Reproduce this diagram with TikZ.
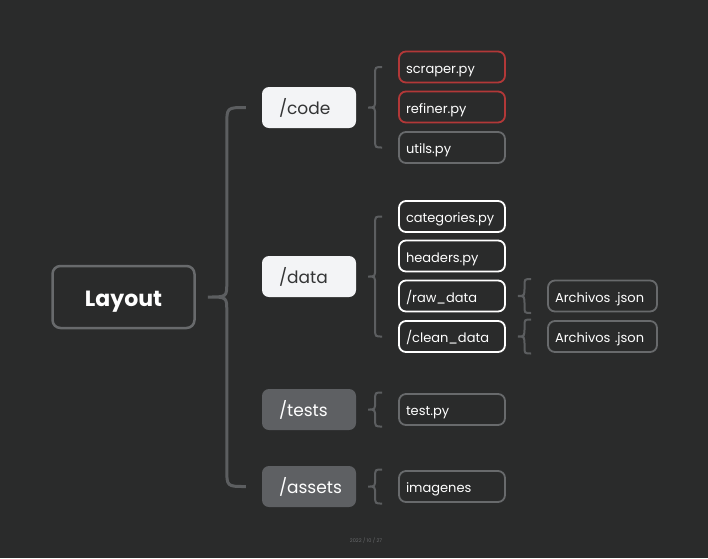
\documentclass[tikz,border=0pt]{standalone}
\usepackage{fontspec}
\setmainfont{Poppins}
\usetikzlibrary{calc}

\definecolor{bgdark}{HTML}{2A2B2B}
\definecolor{forkgray}{HTML}{5C5E60}
\definecolor{edgegray}{HTML}{686A6C}
\definecolor{paper}{HTML}{F3F4F6}
\definecolor{slate}{HTML}{5E6063}
\definecolor{inkdark}{HTML}{333435}
\definecolor{alert}{HTML}{B23838}

\tikzset{
  root/.style={draw=edgegray, line width=2.5pt, rounded corners=8pt, minimum width=142pt, minimum height=62pt, text=white, text height=20pt, text depth=2pt, font=\fontsize{22}{24}\selectfont\bfseries},
  folder/.style={fill=paper, rounded corners=7pt, text width=60pt, inner xsep=17pt, align=left, minimum height=41pt, text height=15pt, text depth=2pt, text=inkdark, font=\fontsize{17}{19}\selectfont},
  folderdim/.style={folder, fill=slate, text=white},
  file/.style={draw=edgegray, line width=1.8pt, rounded corners=7pt, text width=92pt, inner xsep=7pt, align=left, minimum height=31pt, text height=13pt, text depth=1pt, text=white, font=\fontsize{13}{15}\selectfont},
  filered/.style={file, draw=alert},
  filewhite/.style={file, draw=white},
  filewide/.style={file, text width=95pt},
  fork/.style={draw=forkgray, line width=2pt},
  bigfork/.style={draw=forkgray, line width=3pt},
}

% [spread]{style}{curve}{corner}{parent}{first}{last}
\newcommand\fork[7][0pt]{%
  \draw[#2] let \p1=([xshift=12pt]#5.east), \p2=([xshift=-16pt]#6.west), \p3=([xshift=-16pt]#7.west) in
    (\x2,{\y2+#1}) .. controls ({(\x1+\x2)/2},{\y2+#1}) .. ({(\x1+\x2)/2},{\y2+#1-#4})
    -- ({(\x1+\x2)/2},{\y1+#3})
    .. controls ({(\x1+\x2)/2},\y1) .. (\x1,\y1)
    .. controls ({(\x1+\x2)/2},\y1) .. ({(\x1+\x2)/2},{\y1-#3})
    -- ({(\x1+\x2)/2},{\y3-#1+#4})
    .. controls ({(\x1+\x2)/2},{\y3-#1}) .. (\x3,{\y3-#1});}

\begin{document}
\begin{tikzpicture}[x=1pt, y=-1pt]
  \fill[bgdark] (0,0) rectangle (708,558);
  \useasboundingbox (0,0) rectangle (708,558);

  \node[root] (layout) at (123.5,297) {Layout};

  \node[folder] (code) at (309,107.5) {/code};
  \node[folder] (data) at (309,276.5) {/data};
  \node[folderdim] (tests) at (309,409.5) {/tests};
  \node[folderdim] (assets) at (309,486.5) {/assets};

  \node[filered] (scraper) at (452,67) {scraper.py};
  \node[filered] (refiner) at (452,107) {refiner.py};
  \node[file] (utils) at (452,147.5) {utils.py};

  \node[filewhite] (categories) at (452,216.5) {categories.py};
  \node[filewhite] (headers) at (452,256) {headers.py};
  \node[filewhite] (rawdata) at (452,296) {/raw\_data};
  \node[filewhite] (cleandata) at (452,336.5) {/clean\_data};

  \node[filewide] (rawjson) at (602.5,296) {Archivos .json};
  \node[filewide] (cleanjson) at (602.5,336.5) {Archivos .json};

  \node[file] (testpy) at (452,409.5) {test.py};
  \node[file] (imagenes) at (452,486.5) {imagenes};

  \fork{bigfork}{14pt}{18pt}{layout}{code}{assets}
  \fork{fork}{9pt}{7pt}{code}{scraper}{utils}
  \fork{fork}{9pt}{7pt}{data}{categories}{cleandata}
  \fork[17pt]{fork}{9pt}{7pt}{rawdata}{rawjson}{rawjson}
  \fork[17pt]{fork}{9pt}{7pt}{cleandata}{cleanjson}{cleanjson}
  \fork[17pt]{fork}{9pt}{7pt}{tests}{testpy}{testpy}
  \fork[17pt]{fork}{9pt}{7pt}{assets}{imagenes}{imagenes}

  \node[text=edgegray, font=\fontsize{5}{6}\selectfont] (date) at (366,541) {2022 / 10 / 27};
\end{tikzpicture}
\end{document}
